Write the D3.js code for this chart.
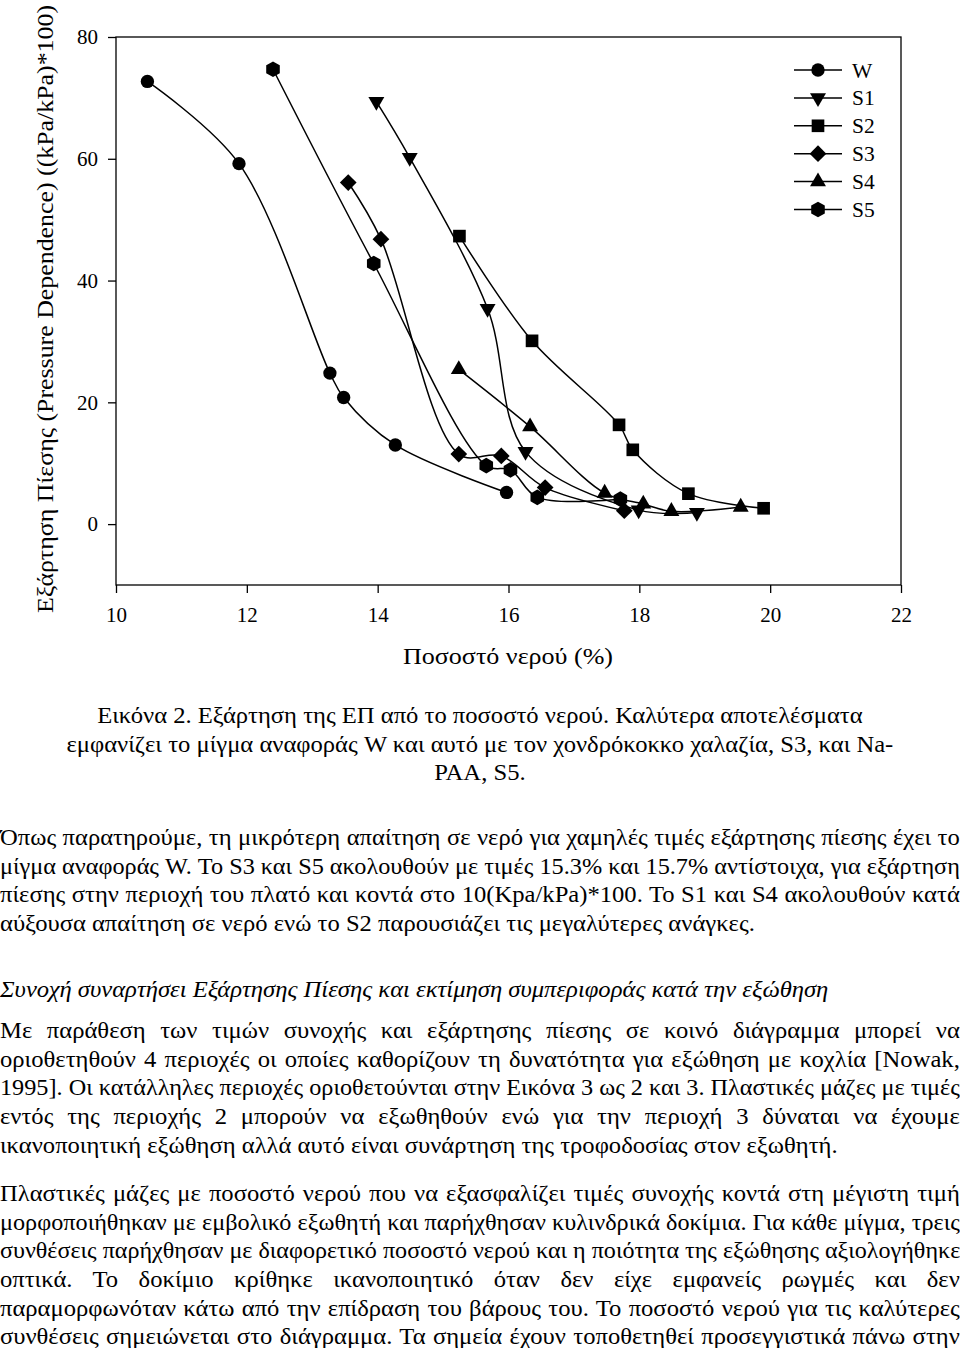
<!DOCTYPE html>
<html>
<head>
<meta charset="utf-8">
<script src="https://cdn.jsdelivr.net/npm/d3@7"></script>
<style>
  body { margin: 0; background: #fff; width: 960px; }
  #chart { position: absolute; left: 0; top: 0; }
  .axis text { font-family: "Liberation Serif", "Times New Roman", serif; font-size: 21px; fill: #000; }
  .axis path, .axis line { stroke: #000; stroke-width: 1.3; }
  .txt { position: absolute; left: 0; width: 897px; font-family: "Liberation Serif", "Times New Roman", serif;
         font-size: 23px; color: #000; transform: scaleX(1.07); transform-origin: 0 0; }
  .line { white-space: nowrap; height: 28.7px; line-height: 28.7px; }
  .just { text-align: justify; text-align-last: justify; }
  .center { text-align: center; }
</style>
</head>
<body>
<div id="chart"></div>
<div id="text"></div>
<script>
// series: water content (%) and pressure dependence ((kPa/kPa)*100)
var seriesNames = ['W', 'S1', 'S2', 'S3', 'S4', 'S5'];
var W_x  = [10.48, 11.88, 13.27, 13.48, 14.27, 15.97];
var W_y  = [72.7, 59.2, 24.8, 20.8, 13.0, 5.2];
var S1_x = [13.98, 14.49, 15.68, 16.26, 17.99, 18.88];
var S1_y = [69.4, 60.2, 35.4, 11.9, 2.3, 1.9];
var S2_x = [15.25, 16.36, 17.69, 17.90, 18.75, 19.90];
var S2_y = [47.3, 30.1, 16.3, 12.2, 5.0, 2.6];
var S3_x = [13.55, 14.05, 15.24, 15.89, 16.56, 17.77];
var S3_y = [56.1, 46.8, 11.5, 11.2, 6.0, 2.2];
var S4_x = [15.24, 16.33, 17.47, 18.06, 18.49, 19.55];
var S4_y = [25.4, 16.0, 5.1, 3.3, 2.1, 2.8];
var S5_x = [12.40, 13.94, 15.66, 16.03, 16.44, 17.71];
var S5_y = [74.7, 42.8, 9.6, 8.9, 4.4, 4.1];

var xTicks = [10, 12, 14, 16, 18, 20, 22];
var yTicks = [0, 20, 40, 60, 80];
var xTitle = 'Ποσοστό νερού (%)';
var yTitle = 'Εξάρτηση Πίεσης (Pressure Dependence) ((kPa/kPa)*100)';

var captionLines = [
  'Εικόνα 2. Εξάρτηση της ΕΠ από το ποσοστό νερού. Καλύτερα αποτελέσματα',
  'εμφανίζει το μίγμα αναφοράς W και αυτό με τον χονδρόκοκκο χαλαζία, S3, και Na-',
  'PAA, S5.'
];
var para1 = [
  'Όπως παρατηρούμε, τη μικρότερη απαίτηση σε νερό για χαμηλές τιμές εξάρτησης πίεσης έχει το',
  'μίγμα αναφοράς W. Το S3 και S5 ακολουθούν με τιμές 15.3% και 15.7% αντίστοιχα, για εξάρτηση',
  'πίεσης στην περιοχή του πλατό και κοντά στο 10(Kpa/kPa)*100. Το S1 και S4 ακολουθούν κατά',
  'αύξουσα απαίτηση σε νερό ενώ το S2 παρουσιάζει τις μεγαλύτερες ανάγκες.'
];
var heading = 'Συνοχή συναρτήσει Εξάρτησης Πίεσης και εκτίμηση συμπεριφοράς κατά την εξώθηση';
var para2 = [
  'Με παράθεση των τιμών συνοχής και εξάρτησης πίεσης σε κοινό διάγραμμα μπορεί να',
  'οριοθετηθούν 4 περιοχές οι οποίες καθορίζουν τη δυνατότητα για εξώθηση με κοχλία [Nowak,',
  '1995]. Οι κατάλληλες περιοχές οριοθετούνται στην Εικόνα 3 ως 2 και 3. Πλαστικές μάζες με τιμές',
  'εντός της περιοχής 2 μπορούν να εξωθηθούν ενώ για την περιοχή 3 δύναται να έχουμε',
  'ικανοποιητική εξώθηση αλλά αυτό είναι συνάρτηση της τροφοδοσίας στον εξωθητή.'
];
var para3 = [
  'Πλαστικές μάζες με ποσοστό νερού που να εξασφαλίζει τιμές συνοχής κοντά στη μέγιστη τιμή',
  'μορφοποιήθηκαν με εμβολικό εξωθητή και παρήχθησαν κυλινδρικά δοκίμια. Για κάθε μίγμα, τρεις',
  'συνθέσεις παρήχθησαν με διαφορετικό ποσοστό νερού και η ποιότητα της εξώθησης αξιολογήθηκε',
  'οπτικά. Το δοκίμιο κρίθηκε ικανοποιητικό όταν δεν είχε εμφανείς ρωγμές και δεν',
  'παραμορφωνόταν κάτω από την επίδραση του βάρους του. Το ποσοστό νερού για τις καλύτερες',
  'συνθέσεις σημειώνεται στο διάγραμμα. Τα σημεία έχουν τοποθετηθεί προσεγγιστικά πάνω στην'
];

plotChart();
writeText();

function plotChart() {
  var margin = {top: 37, left: 116},
      width = 901 - 116,
      height = 585 - 37;

  var x = d3.scaleLinear().domain([10, 22]).range([0, width]);
  var y = d3.scaleLinear().domain([-10, 80]).range([height, 0]);

  var svg = d3.select('#chart').append('svg')
      .attr('width', 960)
      .attr('height', 680);

  var main = svg.append('g')
      .attr('transform', 'translate(' + margin.left + ',' + margin.top + ')');

  // frame
  main.append('rect')
      .attr('width', width).attr('height', height)
      .attr('fill', 'none').attr('stroke', '#000').attr('stroke-width', 1.3);

  // x axis
  main.append('g')
      .attr('class', 'axis')
      .attr('transform', 'translate(0,' + height + ')')
      .call(d3.axisBottom(x).tickValues(xTicks).tickSize(8).tickPadding(14).tickSizeOuter(0))
      .call(function (g) { g.select('.domain').remove(); });

  // y axis
  main.append('g')
      .attr('class', 'axis')
      .call(d3.axisLeft(y).tickValues(yTicks).tickSize(8).tickPadding(10).tickSizeOuter(0))
      .call(function (g) { g.select('.domain').remove(); });

  svg.append('text')
      .attr('x', 508).attr('y', 664)
      .attr('text-anchor', 'middle')
      .attr('textLength', 210)
      .attr('lengthAdjust', 'spacingAndGlyphs')
      .style('font-family', '"Liberation Serif", serif')
      .style('font-size', '24px')
      .text(xTitle);

  svg.append('text')
      .attr('transform', 'translate(53,309) rotate(-90)')
      .attr('text-anchor', 'middle')
      .attr('textLength', 608)
      .attr('lengthAdjust', 'spacingAndGlyphs')
      .style('font-family', '"Liberation Serif", serif')
      .style('font-size', '24px')
      .text(yTitle);

  // symbols
  var hexagon = {
    draw: function (ctx, size) {
      var r = Math.sqrt(size / (1.5 * Math.sqrt(3)));
      for (var i = 0; i < 6; i++) {
        var a = Math.PI / 3 * i - Math.PI / 2;
        if (i == 0) ctx.moveTo(r * Math.cos(a), r * Math.sin(a));
        else ctx.lineTo(r * Math.cos(a), r * Math.sin(a));
      }
      ctx.closePath();
    }
  };
  var symbols = [
    {type: d3.symbolCircle, size: 140, rot: 0},
    {type: d3.symbolTriangle, size: 110, rot: 180},
    {type: d3.symbolSquare, size: 160, rot: 0},
    {type: d3.symbolSquare, size: 140, rot: 45},
    {type: d3.symbolTriangle, size: 110, rot: 0},
    {type: hexagon, size: 160, rot: 0}
  ];

  var allX = [W_x, S1_x, S2_x, S3_x, S4_x, S5_x];
  var allY = [W_y, S1_y, S2_y, S3_y, S4_y, S5_y];

  var line = d3.line()
      .x(function (d) { return x(d.px); })
      .y(function (d) { return y(d.py); })
      .curve(d3.curveCatmullRom.alpha(0.5));

  for (var s = 0; s < seriesNames.length; s++) {
    var data = [];
    for (var i = 0; i < allX[s].length; i++) {
      data.push({px: allX[s][i], py: allY[s][i]});
    }
    var g = main.append('g');
    g.append('path')
        .datum(data)
        .attr('d', line)
        .attr('fill', 'none')
        .attr('stroke', '#000')
        .attr('stroke-width', 1.5);

    var sym = symbols[s];
    g.selectAll('path.mark')
        .data(data)
        .enter()
        .append('path')
        .attr('class', 'mark')
        .attr('d', d3.symbol().type(sym.type).size(sym.size))
        .attr('transform', function (d) {
          return 'translate(' + x(d.px) + ',' + y(d.py) + ') rotate(' + sym.rot + ')';
        })
        .attr('fill', '#000');
  }

  // legend
  var legend = svg.append('g').attr('transform', 'translate(794,70)');
  for (var s = 0; s < seriesNames.length; s++) {
    var row = legend.append('g').attr('transform', 'translate(0,' + (s * 27.9) + ')');
    row.append('line')
        .attr('x1', 0).attr('x2', 48)
        .attr('stroke', '#000').attr('stroke-width', 1.5);
    row.append('path')
        .attr('d', d3.symbol().type(symbols[s].type).size(symbols[s].size))
        .attr('transform', 'translate(24,0) rotate(' + symbols[s].rot + ')')
        .attr('fill', '#000');
    row.append('text')
        .attr('x', 58).attr('y', 7.5)
        .style('font-family', '"Liberation Serif", serif')
        .style('font-size', '21.5px')
        .text(seriesNames[s]);
  }
}

function addBlock(top, lines, cls, justifyAll) {
  var block = d3.select('#text').append('div')
      .attr('class', 'txt')
      .style('top', top + 'px');
  block.selectAll('div')
      .data(lines)
      .enter()
      .append('div')
      .attr('class', function (d, i) {
        if (cls) return 'line ' + cls;
        return (i < lines.length - 1 || justifyAll) ? 'line just' : 'line';
      })
      .text(function (d) { return d; });

  // squeeze any line wider than the column
  var avail = 897;
  block.selectAll('div').each(function () {
    var node = this;
    node.style.display = 'inline-block';
    var w = node.offsetWidth;
    node.style.display = '';
    if (w > avail) {
      node.style.width = w + 'px';
      node.style.transform = 'scaleX(' + (avail / w) + ')';
      node.style.transformOrigin = '0 0';
    }
  });
  return block;
}

function writeText() {
  addBlock(702, captionLines, 'center', false);
  addBlock(824, para1, null, false);
  addBlock(976, [heading], null, false).style('font-style', 'italic');
  addBlock(1017, para2, null, false);
  addBlock(1180, para3, null, true);
}
</script>
</body>
</html>
